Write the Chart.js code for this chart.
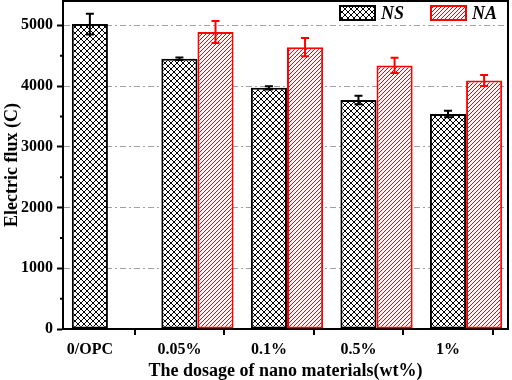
<!DOCTYPE html>
<html lang="en">
<head>
  <meta charset="UTF-8" />
  <title>Electric flux</title>
  <script src="https://cdn.jsdelivr.net/npm/chart.js"></script>
  <style>
    html, body { margin: 0; padding: 0; background: #fff; }
    #wrap { width: 512px; height: 380px; }
  </style>
</head>
<body>
  <div id="wrap"><canvas id="fluxChart"></canvas></div>
  <script>
    // data
    const dosages = ['0/OPC', '0.05%', '0.1%', '0.5%', '1%'];
    const nsFlux = [5020, 4450, 3970, 3770, 3540];
    const nsErr = [170, 20, 25, 70, 55];
    const naFlux = [null, 4890, 4640, 4340, 4090];
    const naErr = [null, 180, 150, 125, 90];
    const yTicks = [0, 1000, 2000, 3000, 4000, 5000];

    const FONT = '"Liberation Serif", "Times New Roman", serif';

    // hatch patterns
    function crossHatch() {
      const c = document.createElement('canvas');
      c.width = 6; c.height = 6;
      const g = c.getContext('2d');
      g.fillStyle = '#fff'; g.fillRect(0, 0, 6, 6);
      g.strokeStyle = '#000'; g.lineWidth = 1;
      g.beginPath();
      g.moveTo(0, 0); g.lineTo(6, 6);
      g.moveTo(6, 0); g.lineTo(0, 6);
      g.stroke();
      return g.createPattern(c, 'repeat');
    }
    function diagHatch() {
      const c = document.createElement('canvas');
      c.width = 4; c.height = 4;
      const g = c.getContext('2d');
      g.fillStyle = '#fff'; g.fillRect(0, 0, 4, 4);
      g.strokeStyle = '#ff0000'; g.lineWidth = 1;
      g.beginPath();
      g.moveTo(-1, 5); g.lineTo(5, -1);
      g.moveTo(-1, 1); g.lineTo(1, -1);
      g.moveTo(3, 5); g.lineTo(5, 3);
      g.stroke();
      return g.createPattern(c, 'repeat');
    }

    const toPoints = arr => arr.map((v, i) => ({ x: i, y: v }));

    // error bars, minor ticks, frame and the legend inside the plot
    const extras = {
      id: 'extras',
      afterDatasetsDraw(chart) {
        const ctx = chart.ctx;
        const y = chart.scales.y;
        const sets = [[1, nsFlux, nsErr, '#000'], [2, naFlux, naErr, '#ff0000']];
        ctx.save();
        ctx.lineWidth = 2;
        sets.forEach(([di, vals, errs, col]) => {
          const meta = chart.getDatasetMeta(di);
          ctx.strokeStyle = col;
          vals.forEach((v, i) => {
            if (v === null) return;
            const x = meta.data[i].x;
            const yt = y.getPixelForValue(v + errs[i]);
            const yb = y.getPixelForValue(v - errs[i]);
            ctx.beginPath();
            ctx.moveTo(x, yt); ctx.lineTo(x, yb);
            ctx.moveTo(x - 4, yt); ctx.lineTo(x + 4, yt);
            ctx.moveTo(x - 4, yb); ctx.lineTo(x + 4, yb);
            ctx.stroke();
          });
        });
        ctx.restore();
      },
      afterDraw(chart) {
        const ctx = chart.ctx;
        const a = chart.chartArea;
        const y = chart.scales.y;
        ctx.save();
        ctx.strokeStyle = '#000';
        ctx.lineWidth = 2;
        ctx.beginPath();
        ctx.moveTo(a.left, a.top); ctx.lineTo(a.right, a.top); ctx.lineTo(a.right, a.bottom);
        yTicks.slice(0, -1).forEach(t => {
          const py = y.getPixelForValue(t + 500);
          ctx.moveTo(a.left, py); ctx.lineTo(a.left - 3, py);
        });
        ctx.stroke();

        // legend
        const items = [chart.data.datasets[1], chart.data.datasets[2]];
        let lx = a.right - 168;
        const ly = a.top + 5;
        ctx.font = 'italic bold 18px ' + FONT;
        ctx.textBaseline = 'middle';
        ctx.textAlign = 'left';
        items.forEach(ds => {
          ctx.fillStyle = ds.backgroundColor;
          ctx.fillRect(lx, ly, 35, 14);
          ctx.strokeStyle = ds.borderColor;
          ctx.lineWidth = 2;
          ctx.strokeRect(lx, ly, 35, 14);
          ctx.fillStyle = '#000';
          ctx.fillText(ds.label, lx + 41, ly + 8);
          lx += 91;
        });
        ctx.restore();
      }
    };

    new Chart(document.getElementById('fluxChart'), {
      type: 'bar',
      data: {
        datasets: [
          { label: '', data: toPoints(dosages.map(() => null)) },
          {
            label: 'NS', data: toPoints(nsFlux),
            backgroundColor: crossHatch(), borderColor: '#000',
            borderWidth: 2, borderSkipped: false
          },
          {
            label: 'NA', data: toPoints(naFlux),
            backgroundColor: diagHatch(), borderColor: '#ff0000',
            borderWidth: 2, borderSkipped: false
          }
        ]
      },
      options: {
        responsive: true,
        maintainAspectRatio: false,
        animation: false,
        categoryPercentage: 1.21,
        barPercentage: 1,
        layout: { padding: { top: 1, right: 4, left: 0, bottom: 0 } },
        plugins: {
          tooltip: { enabled: false },
          legend: { display: false }
        },
        scales: {
          x: {
            type: 'linear',
            offset: false,
            min: -0.3, max: 4.67,
            afterBuildTicks: s => { s.ticks = dosages.map((_, i) => ({ value: i })); },
            afterFit: s => { s.height = 51; s.paddingLeft = 0; s.paddingRight = 0; },
            grid: { display: true, drawOnChartArea: false, color: '#000', tickLength: 6, lineWidth: 2 },
            border: { color: '#000', width: 2 },
            ticks: {
              color: '#000', font: { family: FONT, size: 16, weight: 'bold' }, padding: 5,
              callback: v => dosages[v]
            },
            title: {
              display: true, text: 'The dosage of nano materials(wt%)', color: '#000',
              font: { family: FONT, size: 18, weight: 'bold', lineHeight: 1 }, padding: { top: 2, bottom: 0 }
            }
          },
          y: {
            min: 0, max: 5400,
            afterBuildTicks: s => { s.ticks = yTicks.map(v => ({ value: v })); },
            afterFit: s => { s.paddingTop = 0; s.width = 63; },
            grid: {
              color: c => (c.tick && c.tick.value > 0 ? '#a0a0a0' : 'rgba(0,0,0,0)'),
              lineWidth: 1, tickColor: '#000', tickWidth: 2, tickLength: 6
            },
            border: { color: '#000', width: 2, dash: [6, 3, 2, 3] },
            ticks: {
              color: '#000', font: { family: FONT, size: 16, weight: 'bold' }, padding: 4,
              callback: v => String(v)
            },
            title: {
              display: true, text: 'Electric flux (C)', color: '#000',
              font: { family: FONT, size: 18, weight: 'bold', lineHeight: 1.1 }, padding: { top: 2, bottom: 2 }
            }
          }
        }
      },
      plugins: [extras]
    });
  </script>
</body>
</html>
